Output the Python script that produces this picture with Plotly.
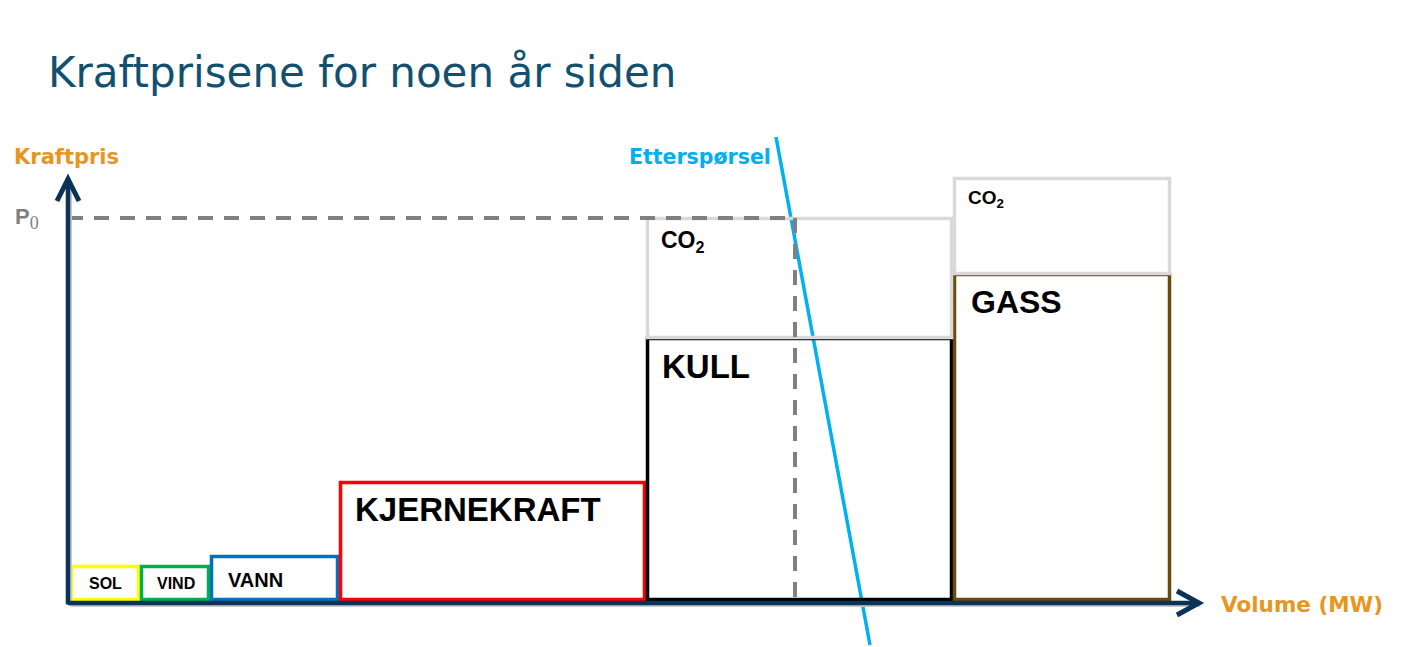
import plotly.graph_objects as go

# ---------------- data (volume in units of 100 MW, price in arbitrary units) ----------
technologies = ["SOL", "VIND", "VANN", "KJERNEKRAFT", "KULL", "GASS"]
capacity = [7.0, 7.0, 12.9, 30.7, 30.7, 21.8]          # block widths
fuel_cost = [3.6, 3.6, 4.6, 12.0, 26.4, 32.8]           # marginal cost without CO2
co2_cost = [0.0, 0.0, 0.0, 0.0, 12.0, 9.6]              # CO2 cost on top
start_volume = 0.2

demand_volume = [70.8, 80.2]
demand_price = [46.4, -4.4]
p0_price = 38.3
q0_volume = 72.7

# ---------------- styles ----------------
edge_colors = ["#FFFF00", "#00B050", "#0070C0", "#FF0000", "#000000", "#6B4A0E"]
co2_color = "#D9D9D9"
navy = "#0B3358"
orange = "#E8961E"
title_color = "#115070"
demand_color = "#00B0F0"

fig = go.Figure()
shapes = []
annotations = []

# cumulative positions
x0s = []
x = start_volume
for w in capacity:
    x0s.append(x)
    x += w

inset = 0.15
label_sizes = [16, 16, 20, 33, 33, 32]
for i, tech in enumerate(technologies):
    xa, xb = x0s[i], x0s[i] + capacity[i]
    shapes.append(dict(type="rect", xref="x", yref="y",
                       x0=xa + inset, x1=xb - inset, y0=0 + inset, y1=fuel_cost[i] - inset,
                       line=dict(color=edge_colors[i], width=3.5), fillcolor="rgba(0,0,0,0)", layer="above"))
for i, tech in enumerate(technologies):
    if co2_cost[i] > 0:
        xa, xb = x0s[i], x0s[i] + capacity[i]
        shapes.append(dict(type="rect", xref="x", yref="y",
                           x0=xa + inset, x1=xb - inset, y0=fuel_cost[i] - 0.05,
                           y1=fuel_cost[i] + co2_cost[i] - inset,
                           line=dict(color=co2_color, width=3.5), fillcolor="rgba(0,0,0,0)", layer="above"))

# block labels: (dx from block left, dy below block top)
label_pos = {
    "SOL": (1.7, 1.8),
    "VIND": (1.5, 1.8),
    "VANN": (1.6, 2.5),
    "KJERNEKRAFT": (1.4, 2.8),
    "KULL": (1.4, 2.9),
    "GASS": (1.6, 2.9),
}
for i, tech in enumerate(technologies):
    dx, dy = label_pos[tech]
    annotations.append(dict(x=x0s[i] + dx, y=fuel_cost[i] - dy, xref="x", yref="y",
                            text="<b>" + tech + "</b>", showarrow=False, xanchor="left", yanchor="middle",
                            font=dict(family="Liberation Sans, Arial", size=label_sizes[i], color="black")))
co2_label = {"KULL": (23, 2.4), "GASS": (19, 2.2)}
for i, tech in enumerate(technologies):
    if co2_cost[i] > 0:
        size, dy = co2_label[tech]
        top = fuel_cost[i] + co2_cost[i]
        annotations.append(dict(x=x0s[i] + 1.3, y=top - dy, xref="x", yref="y",
                                text="<b>CO<sub>2</sub></b>", showarrow=False, xanchor="left", yanchor="middle",
                                font=dict(family="Liberation Sans, Arial", size=size, color="black")))

# P0 dashed lines
shapes.append(dict(type="line", xref="x", yref="y", x0=0, x1=q0_volume, y0=p0_price, y1=p0_price,
                   line=dict(color="#808080", width=4, dash="15px,11px"), layer="above"))
shapes.append(dict(type="line", xref="x", yref="y", x0=q0_volume, x1=q0_volume, y0=p0_price, y1=0.1,
                   line=dict(color="#808080", width=4, dash="15px,11px"), layer="above"))

# demand line
fig.add_trace(go.Scatter(x=demand_volume, y=demand_price, mode="lines",
                         line=dict(color=demand_color, width=3.5), hoverinfo="skip", showlegend=False))

# axes with arrows
x_end = 113.0
y_end = 42.2
shapes.append(dict(type="line", xref="x", yref="y", x0=0.25, x1=x_end + 0.25, y0=-0.45, y1=-0.45,
                   line=dict(color="#C8C8C8", width=3), layer="above"))
shapes.append(dict(type="line", xref="x", yref="y", x0=0.25, x1=0.25, y0=-0.45, y1=y_end - 0.3,
                   line=dict(color="#C8C8C8", width=3), layer="above"))
shapes.append(dict(type="line", xref="x", yref="y", x0=0, x1=x_end, y0=-0.2, y1=-0.2,
                   line=dict(color=navy, width=4.5), layer="above"))
shapes.append(dict(type="line", xref="x", yref="y", x0=0, x1=0, y0=-0.35, y1=y_end,
                   line=dict(color=navy, width=4.5), layer="above"))
shapes.append(dict(type="path", xref="x", yref="y",
                   path=f"M {x_end-2.1},{-0.2+1.2} L {x_end+0.1},{-0.2} L {x_end-2.1},{-0.2-1.2}",
                   line=dict(color=navy, width=5), layer="above"))
shapes.append(dict(type="path", xref="x", yref="y",
                   path=f"M {-1.1},{y_end-2.2} L 0,{y_end} L {1.1},{y_end-2.2}",
                   line=dict(color=navy, width=5), layer="above"))

# texts
annotations.append(dict(x=-2.2, y=52.9, xref="x", yref="y", text="Kraftprisene for noen år siden",
                        showarrow=False, xanchor="left", yanchor="middle",
                        font=dict(family="DejaVu Sans", size=42, color=title_color)))
annotations.append(dict(x=-5.6, y=44.4, xref="x", yref="y", text="<b>Kraftpris</b>", showarrow=False,
                        xanchor="left", yanchor="middle", font=dict(family="DejaVu Sans", size=21, color=orange)))
annotations.append(dict(x=55.9, y=44.4, xref="x", yref="y", text="<b>Etterspørsel</b>", showarrow=False,
                        xanchor="left", yanchor="middle", font=dict(family="DejaVu Sans", size=20.5, color=demand_color)))
annotations.append(dict(x=115.1, y=-0.3, xref="x", yref="y", text="<b>Volume (MW)</b>", showarrow=False,
                        xanchor="left", yanchor="middle", font=dict(family="DejaVu Sans", size=21.5, color=orange)))
annotations.append(dict(x=-5.5, y=p0_price, xref="x", yref="y",
                        text="<b>P</b><sub><span style='font-family:Liberation Serif;font-size:18px'>0</span></sub>",
                        showarrow=False, xanchor="left", yanchor="middle",
                        font=dict(family="Liberation Sans", size=22, color="#7F7F7F")))

# page body has an 8px margin: figure is sized/ranged so 1 data unit = 10 screen px
fig.update_layout(
    width=1405, height=639,
    margin=dict(l=0, r=0, t=0, b=0),
    paper_bgcolor="white", plot_bgcolor="white",
    xaxis=dict(range=[-6.0, 134.5], visible=False, fixedrange=True),
    yaxis=dict(range=[-4.6, 59.3], visible=False, fixedrange=True),
    shapes=shapes, annotations=annotations, showlegend=False,
)
fig.write_html("out.html")
